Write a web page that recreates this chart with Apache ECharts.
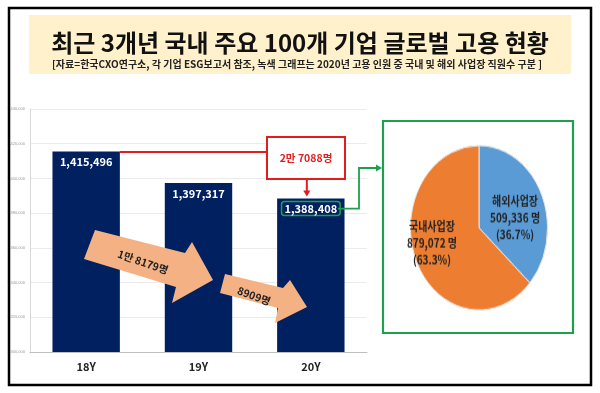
<!DOCTYPE html>
<html>
<head>
<meta charset="utf-8">
<script src="https://cdn.jsdelivr.net/npm/echarts@6/dist/echarts.min.js"></script>
<style>
html,body{margin:0;padding:0;background:#fff;}
#wrap{position:relative;width:600px;height:393px;}
#main{position:absolute;left:0;top:0;width:600px;height:393px;}
#pie{position:absolute;left:383px;top:130px;width:190px;height:170px;transform:scaleY(1.2);transform-origin:0 0;}
</style>
</head>
<body>
<div id="wrap"><div id="main"></div><div id="pie"></div></div>
<script>
// ---- data ----
const categories = ['18Y', '19Y', '20Y'];
const employees = [1415496, 1397317, 1388408];
const yMin = 1300000;
const yMax = 1440000;
const yStep = 20000;
const pieNames = ['해외사업장', '국내사업장'];
const pieValues = [509336, 879072];
const pieColors = ['#5B9BD5', '#ED7D31'];
const yearChanges = ['1만 8179명', '8909명'];
const totalChange = '2만 7088명';
const titleText = '최근 3개년 국내 주요 100개 기업 글로벌 고용 현황';
const subtitleText = '[자료=한국CXO연구소, 각 기업 ESG보고서 참조, 녹색 그래프는 2020년 고용 인원 중 국내 및 해외 사업장 직원수 구분 ]';

const KR = '"Noto Sans CJK KR", "Noto Sans", sans-serif';
const GREEN = '#1FA04E';
const RED = '#E01E1E';
const fmt = v => Number(v).toLocaleString('en-US');

const chart = echarts.init(document.getElementById('main'));
chart.setOption({
  animation: false,
  backgroundColor: '#fff',
  grid: { left: 30, right: 233, top: 109, bottom: 41 },
  xAxis: {
    type: 'category', data: categories,
    axisTick: { show: false },
    axisLine: { lineStyle: { color: '#bfbfbf' } },
    axisLabel: { fontSize: 11, fontWeight: 'bold', color: '#222', margin: 9, fontFamily: KR }
  },
  yAxis: {
    type: 'value', min: yMin, max: yMax, interval: yStep,
    axisLine: { show: true, lineStyle: { color: '#d9d9d9' } },
    axisTick: { show: false },
    axisLabel: { fontSize: 4, color: '#999', margin: 5, formatter: v => fmt(v) },
    splitLine: { lineStyle: { color: '#ebebeb' } }
  },
  series: [{
    type: 'bar',
    barWidth: '60%',
    z: 2,
    itemStyle: { color: '#002060' },
    label: {
      show: true, position: 'insideTop', distance: 5,
      color: '#fff', fontSize: 11, fontWeight: 'bold', fontFamily: KR,
      formatter: p => fmt(p.value)
    },
    data: employees.map((v, i) => i === categories.length - 1 ? {
      value: v,
      label: { distance: 3, borderColor: GREEN, borderWidth: 1.5, borderRadius: 3, padding: [2, 3, 1, 3] }
    } : v)
  }]
});

// positions derived from the axes
const cx = categories.map(c => chart.convertToPixel({ xAxisIndex: 0 }, c));
const band = cx[1] - cx[0];
const half = band * 0.3;
const tops = employees.map(v => chart.convertToPixel({ yAxisIndex: 0 }, v));

const redBox = { x: 267, y: 137, w: 78, h: 42 };
const pieBox = { x: 383, y: 121, w: 190, h: 212 };
const lblRight = cx[2] + 27;
const lblMidY = tops[2] + 10;
const greenX = 359;
const arrowY = 168;

function arrowHead(x, y, dir, size, color) {
  const s = size;
  const pts = dir === 'down'
    ? [[x - s * 0.6, y - s], [x + s * 0.6, y - s], [x, y]]
    : [[x - s, y - s * 0.6], [x - s, y + s * 0.6], [x, y]];
  return { type: 'polygon', z: 20, shape: { points: pts }, style: { fill: color } };
}

const graphics = [
  { type: 'rect', z: 30, shape: { x: 9, y: 8, width: 582, height: 377 }, style: { fill: null, stroke: '#000', lineWidth: 2.5 } },
  { type: 'rect', z: 5, shape: { x: 29, y: 15, width: 542, height: 59 }, style: { fill: '#FFF1CB' } },
  { type: 'text', z: 6, x: 300, y: 43, style: { text: titleText, font: 'bold 24px ' + KR, fill: '#111', align: 'center', verticalAlign: 'middle' } },
  { type: 'text', z: 6, x: 297, y: 64, style: { text: subtitleText, font: 'bold 10px ' + KR, fill: '#222', align: 'center', verticalAlign: 'middle' } },
  { type: 'polygon', z: 15, shape: { points: [[95, 230], [185, 253], [192, 242], [213, 280], [172, 303], [176, 287], [84, 259]] }, style: { fill: '#F4B183' } },
  { type: 'text', z: 16, x: 143, y: 262, rotation: -19 * Math.PI / 180, style: { text: yearChanges[0], font: 'bold 10.5px ' + KR, fill: '#222', align: 'center', verticalAlign: 'middle' } },
  { type: 'polygon', z: 15, shape: { points: [[225, 274], [283, 288], [290, 280], [307, 307], [275, 323], [278, 308], [220, 293]] }, style: { fill: '#F4B183' } },
  { type: 'text', z: 16, x: 254, y: 296, rotation: -20 * Math.PI / 180, style: { text: yearChanges[1], font: 'bold 10.5px ' + KR, fill: '#222', align: 'center', verticalAlign: 'middle' } },
  { type: 'line', z: 20, shape: { x1: cx[0] + half, y1: tops[0] + 0.5, x2: redBox.x, y2: tops[0] + 0.5 }, style: { stroke: RED, lineWidth: 2 } },
  { type: 'rect', z: 20, shape: { x: redBox.x, y: redBox.y, width: redBox.w, height: redBox.h }, style: { fill: '#fff', stroke: RED, lineWidth: 2 } },
  { type: 'text', z: 21, x: redBox.x + redBox.w / 2, y: redBox.y + redBox.h / 2, style: { text: totalChange, font: 'bold 10.5px ' + KR, fill: RED, align: 'center', verticalAlign: 'middle' } },
  { type: 'line', z: 20, shape: { x1: cx[2] - 4, y1: redBox.y + redBox.h, x2: cx[2] - 4, y2: tops[2] - 6 }, style: { stroke: RED, lineWidth: 2 } },
  arrowHead(cx[2] - 4, tops[2] - 2, 'down', 6, RED),
  { type: 'polyline', z: 20, shape: { points: [[lblRight, lblMidY], [greenX, lblMidY], [greenX, arrowY], [pieBox.x - 5, arrowY]] }, style: { stroke: GREEN, lineWidth: 1.8, fill: null } },
  arrowHead(pieBox.x - 1, arrowY, 'right', 6, GREEN),
  { type: 'rect', z: 20, shape: { x: pieBox.x, y: pieBox.y, width: pieBox.w, height: pieBox.h }, style: { fill: null, stroke: GREEN, lineWidth: 2.2 } }
];
chart.setOption({ graphic: graphics });

// ---- pie (vertically stretched like the reference) ----
const pie = echarts.init(document.getElementById('pie'));
const total = pieValues.reduce((a, b) => a + b, 0);
pie.setOption({
  animation: false,
  backgroundColor: 'transparent',
  series: [{
    type: 'pie',
    center: [96, 81.5],
    radius: 68.5,
    startAngle: 90,
    clockwise: true,
    itemStyle: { borderColor: '#e6e6e6', borderWidth: 1 },
    label: {
      show: true, position: 'inside',
      color: '#222', fontSize: 10, fontWeight: 'bold', lineHeight: 14, fontFamily: KR,
      formatter: p => p.name + '\n' + fmt(p.value) + ' 명\n(' + (p.value / total * 100).toFixed(1) + '%)'
    },
    labelLayout: p => p.dataIndex === 0 ? { dx: 2, dy: 7 } : { dx: -13, dy: -2 },
    labelLine: { show: false },
    data: pieNames.map((n, i) => ({ name: n, value: pieValues[i], itemStyle: { color: pieColors[i] } }))
  }]
});
</script>
</body>
</html>
